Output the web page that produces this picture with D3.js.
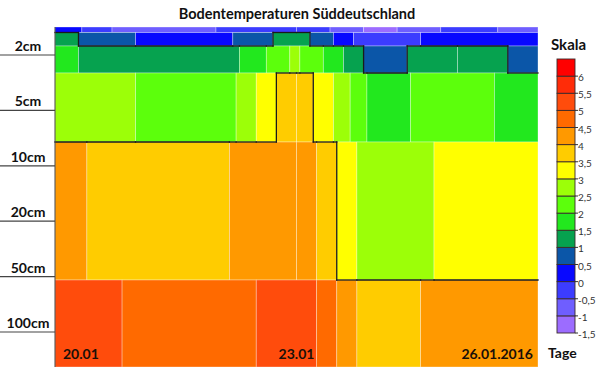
<!DOCTYPE html>
<html><head><meta charset="utf-8">
<script src="https://cdn.jsdelivr.net/npm/d3@7"></script>
<style>body{margin:0;background:#fff}svg{display:block}</style>
</head><body>
<svg id="chart" width="600" height="367"></svg>
<script>
// ---------- DATA ----------
const title = "Bodentemperaturen Süddeutschland";
const depthLabels = ["2cm", "5cm", "10cm", "20cm", "50cm", "100cm"];
const dateLabels = ["20.01", "23.01", "26.01.2016"];
const dateHours = [0, 72, 144];            // hours after 20.01.2016 00:00
const legendTitle = "Skala";
const axisTitle = "Tage";
const classBreaks = [-1, -0.5, 0, 0.5, 1, 1.5, 2, 2.5, 3, 3.5, 4, 4.5, 5, 5.5, 6];
const classColors = ["#9c6cff", "#6f5eff", "#3c3cff", "#0808ff", "#0b56a8", "#06a24f",
  "#22e81e", "#5cff0c", "#9cff08", "#ffff00", "#ffcc00", "#ff9900", "#ff6a00",
  "#ff4c0c", "#ff2c08", "#ff0000"];
const legendTickValues = [6, 5.5, 5, 4.5, 4, 3.5, 3, 2.5, 2, 1.5, 1, 0.5, 0, -0.5, -1, -1.5];
const legendTickLabels = ["6", "5,5", "5", "4,5", "4", "3,5", "3", "2,5", "2", "1,5", "1", "0,5", "0", "-0,5", "-1", "-1,5"];
const contourLevels = [1, 3.5];

// soil layers: cell start/end hours and temperature (°C) of each cell
const surfaceHours = [0, 8, 17, 48, 72, 82, 92, 102, 115, 132, 144];
const surfaceTemps = [0.25, -0.25, -0.75, -0.25, -0.25, -0.75, -1.25, -0.75, -0.25, -0.75];
const layer1Hours = [0, 7, 24, 53, 65, 76, 83, 89, 109, 144];
const layer1Temps = [1.25, 0.75, 0.25, 0.75, 1.25, 0.75, 0.25, -0.25, 0.25];
const layer2Hours = [0, 7, 55, 63, 70, 73, 80, 86, 92, 105, 120, 135, 144];
const layer2Temps = [1.75, 1.25, 1.75, 2.25, 2.75, 2.25, 1.75, 1.25, 0.75, 1.25, 1.25, 0.75];
const layer5Hours = [0, 24, 54, 60, 66, 72, 77, 83, 88, 93, 106, 131, 144];
const layer5Temps = [2.75, 2.25, 2.75, 3.25, 3.75, 3.75, 3.25, 2.75, 2.25, 1.75, 2.25, 1.75];
const layer10Hours = [0, 9.5, 52, 72, 78, 84, 90, 113, 144];
const layer10Temps = [4.25, 3.75, 4.25, 4.25, 3.75, 3.25, 2.75, 3.25];
const layer100Hours = [0, 20, 60, 78, 84, 90, 109, 144];
const layer100Temps = [5.25, 4.75, 5.25, 4.75, 4.25, 3.75, 4.25];

const layers = [
  {hours: surfaceHours, temps: surfaceTemps},
  {hours: layer1Hours, temps: layer1Temps},
  {hours: layer2Hours, temps: layer2Temps},
  {hours: layer5Hours, temps: layer5Temps},
  {hours: layer10Hours, temps: layer10Temps},
  {hours: layer100Hours, temps: layer100Temps}
];

// ---------- LAYOUT ----------
const svg = d3.select("#chart");
const plotL = 55, plotR = 538, plotT = 27, plotB = 367;
const x = d3.scaleLinear().domain([0, 144]).range([plotL, plotR]);
const layerEdges = [27, 32.5, 46, 73, 142, 280, 367];
const color = d3.scaleThreshold().domain(classBreaks).range(classColors);
const font = "Lato, 'Open Sans', sans-serif";

// cells
const cells = [];
layers.forEach((L, i) => {
  L.temps.forEach((t, k) => cells.push({layer: i, h0: L.hours[k], h1: L.hours[k + 1], t}));
});
svg.append("g").selectAll("rect").data(cells).join("rect")
  .attr("x", d => x(d.h0))
  .attr("y", d => layerEdges[d.layer])
  .attr("width", d => x(d.h1) - x(d.h0))
  .attr("height", d => layerEdges[d.layer + 1] - layerEdges[d.layer])
  .attr("fill", d => color(d.t))
  .attr("stroke", "rgba(255,255,255,0.4)")
  .attr("stroke-width", 0.8);

// contour lines derived from the cells
function contourSegs(T) {
  const segs = [];
  layers.forEach((L, i) => {
    for (let k = 1; k < L.temps.length; k++) {
      if ((L.temps[k - 1] >= T) !== (L.temps[k] >= T)) {
        const xx = x(L.hours[k]);
        segs.push([xx, layerEdges[i], xx, layerEdges[i + 1]]);
      }
    }
    if (i < layers.length - 1) {
      const M = layers[i + 1];
      const yy = layerEdges[i + 1];
      for (let a = 0; a < L.temps.length; a++) {
        for (let b = 0; b < M.temps.length; b++) {
          const lo = Math.max(L.hours[a], M.hours[b]);
          const hi = Math.min(L.hours[a + 1], M.hours[b + 1]);
          if (hi > lo && ((L.temps[a] >= T) !== (M.temps[b] >= T))) {
            segs.push([x(lo), yy, x(hi), yy]);
          }
        }
      }
    }
  });
  return segs;
}
const allSegs = contourLevels.flatMap(contourSegs);
svg.append("g").selectAll("line").data(allSegs).join("line")
  .attr("x1", d => d[0]).attr("y1", d => d[1])
  .attr("x2", d => d[2]).attr("y2", d => d[3])
  .attr("stroke", "#1a1a1a").attr("stroke-width", 1.3)
  .attr("stroke-linecap", "square");

// left axis line
svg.append("line").attr("x1", plotL).attr("x2", plotL).attr("y1", plotT).attr("y2", plotB)
  .attr("stroke", "#444").attr("stroke-width", 1);

// depth labels
const yDepth = d3.scalePoint().domain(depthLabels).range([55, 332]);
const dg = svg.append("g").selectAll("g").data(depthLabels).join("g");
dg.append("line").attr("x1", 0).attr("x2", plotL)
  .attr("y1", d => yDepth(d)).attr("y2", d => yDepth(d))
  .attr("stroke", "#444").attr("stroke-width", 1.2);
dg.append("text").attr("x", 28).attr("y", d => yDepth(d) - 4)
  .attr("text-anchor", "middle").attr("font-family", font).attr("font-weight", "bold")
  .attr("font-size", 14).attr("fill", "#111").text(d => d);

// date labels
const anchors = ["start", "middle", "end"];
const offs = [8, 0, -5];
svg.append("g").selectAll("text").data(dateLabels).join("text")
  .attr("x", (d, i) => x(dateHours[i]) + offs[i]).attr("y", 359)
  .attr("text-anchor", (d, i) => anchors[i])
  .attr("font-family", font).attr("font-weight", "bold").attr("font-size", 14)
  .attr("fill", "#1a1008").text(d => d);

// title
svg.append("text").attr("x", 297).attr("y", 19).attr("text-anchor", "middle")
  .attr("font-family", font).attr("font-weight", "bold").attr("font-size", 14.5)
  .attr("fill", "#111").text(title);

// legend
const ly = d3.scaleLinear().domain([-1.5, 6.5]).range([333, 59]);
const lx0 = 557, lx1 = 575;
const legendBands = classColors.map((c, i) => ({c, lo: i === 0 ? -1.5 : classBreaks[i - 1], hi: i === classColors.length - 1 ? 6.5 : classBreaks[i]}));
svg.append("g").selectAll("rect").data(legendBands).join("rect")
  .attr("x", lx0).attr("width", lx1 - lx0)
  .attr("y", d => ly(d.hi)).attr("height", d => ly(d.lo) - ly(d.hi))
  .attr("fill", d => d.c).attr("stroke", "#3a2a2a").attr("stroke-width", 0.9);
const lt = svg.append("g").selectAll("g").data(legendTickValues).join("g");
lt.append("line").attr("x1", lx1).attr("x2", lx1 + 3)
  .attr("y1", d => ly(d)).attr("y2", d => ly(d)).attr("stroke", "#333");
lt.append("text").attr("x", lx1 + 3).attr("y", d => ly(d) + 5)
  .attr("font-family", font).attr("font-size", 10).attr("fill", "#333")
  .text((d, i) => legendTickLabels[i]);

svg.append("text").attr("x", 551).attr("y", 50)
  .attr("font-family", font).attr("font-weight", "bold").attr("font-size", 15)
  .attr("fill", "#111").text(legendTitle);
svg.append("text").attr("x", 548).attr("y", 358)
  .attr("font-family", font).attr("font-weight", "bold").attr("font-size", 14)
  .attr("fill", "#111").text(axisTitle);
</script>
</body></html>
